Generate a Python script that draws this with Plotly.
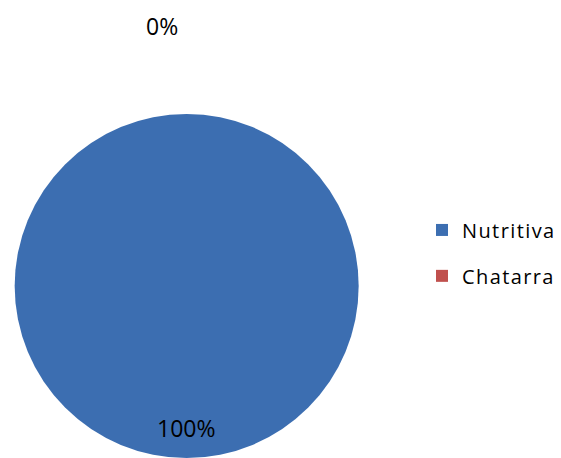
import plotly.graph_objects as go

labels = ["Nutritiva", "Chatarra"]
values = [100, 0]
colors = ["#3C6EB1", "#C0504D"]

total = sum(values)
pcts = [f"{round(v / total * 100)}%" for v in values]

W, H = 561, 458
legend_labels = [
    f"<span style='font-size:20px;baseline-shift:5px;letter-spacing:1.4px'>{l}</span>"
    for l in labels
]

fig = go.Figure()
fig.add_trace(go.Pie(
    labels=legend_labels,
    values=values,
    marker=dict(colors=colors, line=dict(width=0)),
    textinfo="none",
    sort=False,
    direction="clockwise",
    rotation=0,
    showlegend=True,
    domain=dict(x=[12 / W, 362 / W], y=[0, 1 - 114 / H]),
    hoverinfo="percent",
))

# percentage labels
fig.add_annotation(text=pcts[0], x=186 / W, y=1 - 428 / H, xref="paper", yref="paper",
                   xanchor="center", yanchor="middle", showarrow=False,
                   font=dict(family="Open Sans", size=23, color="#000000"))
fig.add_annotation(text=pcts[1], x=162 / W, y=1 - 26 / H, xref="paper", yref="paper",
                   xanchor="center", yanchor="middle", showarrow=False,
                   font=dict(family="Open Sans", size=23, color="#000000"))

fig.update_layout(
    width=W,
    height=H,
    margin=dict(l=0, r=0, t=0, b=0),
    paper_bgcolor="white",
    plot_bgcolor="white",
    legend=dict(
        x=423 / W, y=1 - 253 / H, xanchor="left", yanchor="middle",
        font=dict(family="Open Sans", size=33, color="#000000"),
        bgcolor="rgba(0,0,0,0)",
    ),
)

fig.write_html("out.html", config={"displayModeBar": False},
               post_script="document.body.style.margin='0';")
